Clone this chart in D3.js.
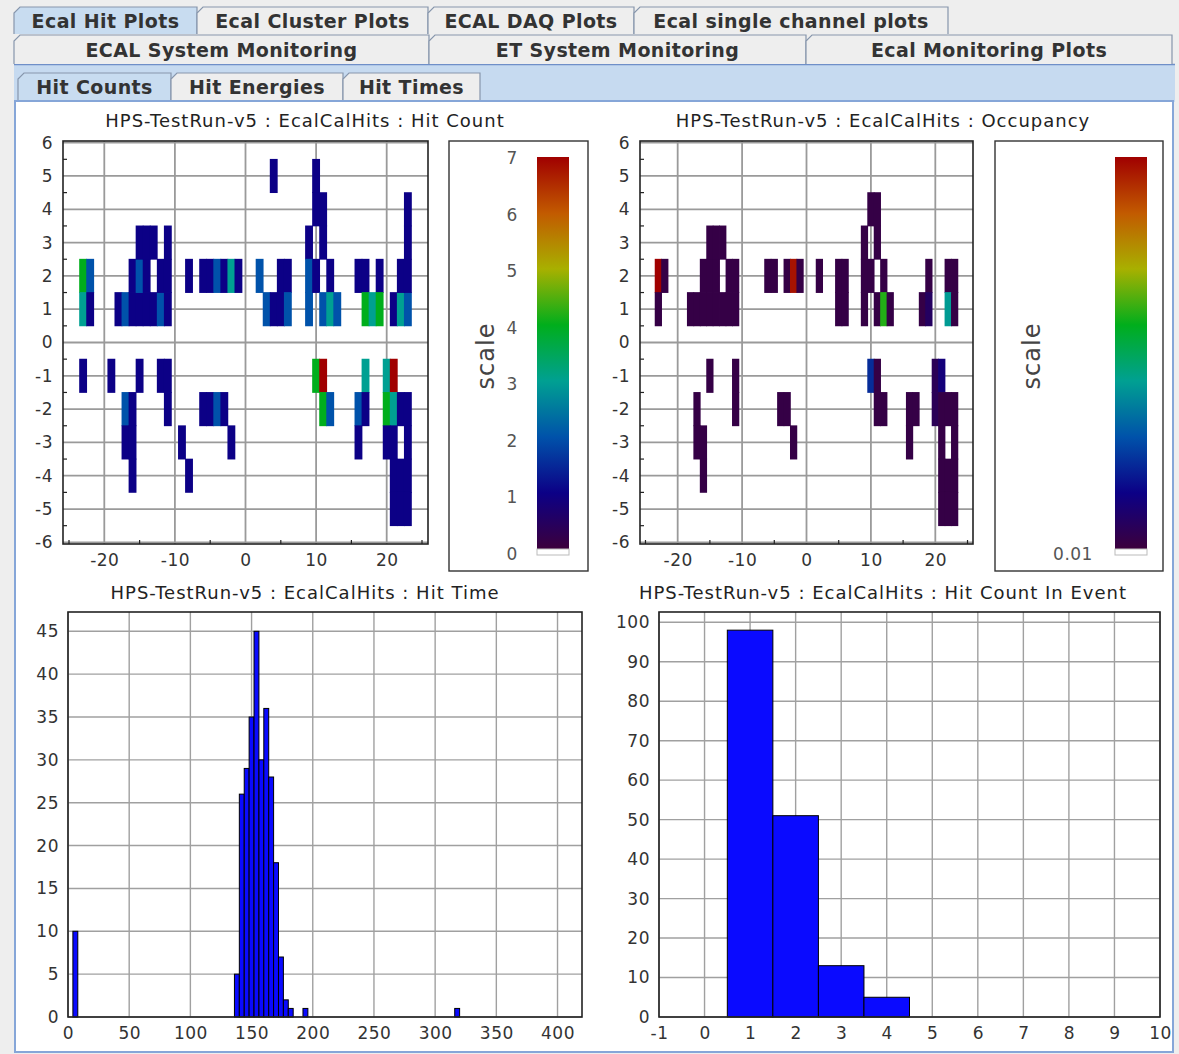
<!DOCTYPE html>
<html><head><meta charset="utf-8">
<script src="https://cdn.jsdelivr.net/npm/d3@7"></script>
<style>
body{margin:0;background:#eeeeee;}
svg{display:block;}
text{font-family:'DejaVu Sans',sans-serif;}
</style>
</head><body><svg id="chart"></svg><script>
// hit count map: [column, row, hits]
const hitCells = [
  [-23,2,4],[-22,2,2],[-23,1,3],[-22,1,1],
  [-18,1,1],[-17,1,2],[-16,1,1],[-15,1,1],[-14,1,1],[-13,1,1],[-12,1,2],[-11,1,1],
  [-16,2,1],[-15,2,2],[-14,2,1],[-12,2,1],[-11,2,1],
  [-15,3,1],[-14,3,1],[-13,3,1],[-11,3,1],
  [-8,2,1],[-6,2,1],[-5,2,1],[-4,2,2],[-3,2,1],[-2,2,3],[-1,2,1],
  [4,5,1],[2,2,2],[5,2,1],[6,2,1],[3,1,2],[4,1,1],[5,1,1],[6,1,2],
  [9,3,1],[9,2,2],[9,1,2],[10,5,1],[10,4,1],[10,2,1],[11,4,1],[11,3,1],[12,2,1],
  [11,1,2],[12,1,3],[13,1,2],
  [16,2,1],[17,2,1],[19,2,1],[17,1,4],[18,1,3],[19,1,4],
  [21,1,1],[22,1,3],[23,1,2],[22,2,1],[23,2,1],[23,3,1],[23,4,1],
  [-23,-1,1],[-19,-1,1],[-17,-2,2],[-17,-3,1],[-16,-2,1],[-16,-3,1],[-16,-4,1],
  [-15,-1,1],[-12,-1,1],[-11,-1,1],[-11,-2,1],[-9,-3,1],[-8,-4,1],
  [-6,-2,1],[-5,-2,1],[-4,-2,2],[-3,-2,1],[-2,-3,1],
  [10,-1,4],[11,-1,7],[11,-2,4],[12,-2,2],
  [17,-1,3],[16,-2,2],[17,-2,1],[16,-3,1],
  [20,-1,3],[21,-1,7],[20,-2,4],[21,-2,3],[22,-2,1],[23,-2,1],
  [20,-3,1],[21,-3,1],[23,-3,1],[21,-4,1],[22,-4,1],[23,-4,1],[21,-5,1],[22,-5,1],[23,-5,1]
];

// occupancy map: [column, row, fraction of colour scale]
const occCells = [
  [-23,2,1.0],[-22,2,0.02],[-23,1,0.02],
  [-18,1,0.02],[-17,1,0.02],[-16,1,0.02],[-15,1,0.02],[-14,1,0.02],[-13,1,0.02],[-12,1,0.02],[-11,1,0.02],
  [-16,2,0.02],[-15,2,0.02],[-14,2,0.02],[-12,2,0.02],[-11,2,0.02],
  [-15,3,0.02],[-14,3,0.02],[-13,3,0.02],
  [-6,2,0.02],[-5,2,0.02],[-3,2,0.02],[-2,2,0.97],[-1,2,0.02],
  [2,2,0.02],[5,2,0.02],[6,2,0.02],[5,1,0.02],[6,1,0.02],
  [9,3,0.02],[9,2,0.02],[9,1,0.02],[10,4,0.02],[11,4,0.02],[11,3,0.02],[10,2,0.02],[12,2,0.02],
  [11,1,0.02],[12,1,0.6],[13,1,0.02],
  [19,2,0.02],[18,1,0.02],[19,1,0.07],[22,2,0.02],[23,2,0.02],[22,1,0.42],[23,1,0.02],
  [-17,-2,0.02],[-17,-3,0.02],[-16,-3,0.02],[-16,-4,0.02],[-15,-1,0.02],[-11,-1,0.02],[-11,-2,0.02],
  [-4,-2,0.02],[-3,-2,0.02],[-2,-3,0.02],
  [10,-1,0.22],[11,-1,0.02],[11,-2,0.02],[12,-2,0.02],
  [16,-2,0.02],[17,-2,0.02],[16,-3,0.02],
  [20,-1,0.05],[20,-2,0.05],[21,-1,0.12],[21,-2,0.02],[22,-2,0.02],[23,-2,0.02],
  [21,-3,0.02],[23,-3,0.02],[21,-4,0.02],[22,-4,0.02],[23,-4,0.02],[21,-5,0.02],[22,-5,0.02],[23,-5,0.02]
];

const timeBinStart = [4, 136, 140, 144, 148, 152, 156, 160, 164, 168, 172, 176, 180, 192, 316];
const timeCounts   = [10, 5, 26, 29, 35, 45, 30, 36, 28, 18, 7, 2, 1, 1, 1];
const timeTicks = [0, 50, 100, 150, 200, 250, 300, 350, 400];
const timeYTicks = [0, 5, 10, 15, 20, 25, 30, 35, 40, 45];

const countBins = [1, 2, 3, 4];
const countValues = [98, 51, 13, 5];
const countTicks = [-1, 0, 1, 2, 3, 4, 5, 6, 7, 8, 9, 10];
const countYTicks = [0, 10, 20, 30, 40, 50, 60, 70, 80, 90, 100];

const mapXTicks = [-20, -10, 0, 10, 20];
const mapYTicks = [-6, -5, -4, -3, -2, -1, 0, 1, 2, 3, 4, 5, 6];
const scaleLabels = [0, 1, 2, 3, 4, 5, 6, 7];

const topTabs = ['Ecal Hit Plots', 'Ecal Cluster Plots', 'ECAL DAQ Plots', 'Ecal single channel plots'];
const midTabs = ['ECAL System Monitoring', 'ET System Monitoring', 'Ecal Monitoring Plots'];
const subTabs = ['Hit Counts', 'Hit Energies', 'Hit Times'];

const palette = ['#3c003c', '#0c0086', '#0052aa', '#00a092', '#00ae1c', '#a8b000', '#c25a00', '#a00000'];
const colorOf = d3.scaleLinear().domain(d3.range(8).map(i => i / 7)).range(palette).clamp(true);

const width = 1179, height = 1054;
const svg = d3.select('#chart').attr('width', width).attr('height', height);

svg.append('rect').attr('width', width).attr('height', height).attr('fill', '#eeeeee');

// plain hyphen for negative numbers, like the original
const fmt = d => (d < 0 ? '-' + Math.abs(d) : String(d));

function tab(x0, x1, y0, y1, label, selected) {
  svg.append('path')
  .attr('d', `M${x0},${y1} L${x0},${y0 + 6} L${x0 + 6},${y0} L${x1},${y0} L${x1},${y1}`)
  .attr('fill', selected ? '#c8dcf0' : '#eeeeee')
  .attr('stroke', '#8796ac').attr('stroke-width', 1.2);
  svg.append('text')
  .attr('x', (x0 + x1) / 2).attr('y', y0 + (y1 - y0) / 2 + 7)
  .attr('text-anchor', 'middle')
  .style('font-size', '19px').style('font-weight', 'bold').style('letter-spacing', '0.4px')
  .style('fill', '#333')
  .text(label);
}

// blue band behind the sub tabs
svg.append('rect').attr('x', 14).attr('y', 64).attr('width', 1161).attr('height', 38)
.attr('fill', '#c6daf0');
svg.append('line').attr('x1', 14).attr('x2', 1175).attr('y1', 64.5).attr('y2', 64.5)
.attr('stroke', '#6f8fc8').attr('stroke-width', 1.5);

const topEdges = [14, 197, 428, 634, 948];
topTabs.forEach((t, i) => tab(topEdges[i], topEdges[i + 1], 7, 34, t, i === 0));
const midEdges = [14, 429, 806, 1172];
midTabs.forEach((t, i) => tab(midEdges[i], midEdges[i + 1], 35, 64, t, false));
const subEdges = [18, 171, 343, 480];
subTabs.forEach((t, i) => tab(subEdges[i], subEdges[i + 1], 73, 101, t, i === 0));

// content panel
svg.append('rect').attr('x', 15).attr('y', 101).attr('width', 1158).attr('height', 951)
.attr('fill', 'white').attr('stroke', '#86a6d8').attr('stroke-width', 2);

function frame(g, x, y, w, h) {
  g.append('rect').attr('x', x).attr('y', y).attr('width', w).attr('height', h)
  .attr('fill', 'none').attr('stroke', '#222').attr('stroke-width', 1.6);
}

function styleAxis(sel) {
  sel.select('.domain').remove();
  sel.selectAll('.tick line').remove();
  sel.selectAll('text').style('font-size', '17px').style('fill', '#333')
  .style('letter-spacing', '0.5px')
  .style('font-family', "'DejaVu Sans', sans-serif");
}

function title(cx, y, txt) {
  svg.append('text').attr('x', cx).attr('y', y).attr('text-anchor', 'middle')
  .style('font-size', '18px').style('letter-spacing', '1px').style('fill', '#222').text(txt);
}

function heatmap(cells, colour, left, top, right, bottom, name, titleX) {
  const g = svg.append('g');
  const x = d3.scaleLinear().domain([-25.85, 25.85]).range([left, right]);
  const y = d3.scaleLinear().domain([-6.05, 6.05]).range([bottom, top]);

  g.append('g').selectAll('line').data(mapXTicks).join('line')
  .attr('x1', d => x(d)).attr('x2', d => x(d)).attr('y1', top).attr('y2', bottom)
  .attr('stroke', '#9a9a9a').attr('stroke-width', 1.8);
  g.append('g').selectAll('line').data(mapYTicks).join('line')
  .attr('x1', left).attr('x2', right).attr('y1', d => y(d)).attr('y2', d => y(d))
  .attr('stroke', '#9a9a9a').attr('stroke-width', 1.8);

  g.append('g').selectAll('rect').data(cells).join('rect')
  .attr('x', d => x(d[0] - 0.5) - 0.4)
  .attr('y', d => y(d[1] + 0.5) - 0.4)
  .attr('width', x(1) - x(0) + 0.8)
  .attr('height', y(0) - y(1) + 0.8)
  .attr('fill', d => colour(d[2]));

  // minor ticks
  g.append('g').selectAll('line').data(d3.range(-5.5, 6, 1)).join('line')
  .attr('x1', left).attr('x2', left + 4).attr('y1', d => y(d)).attr('y2', d => y(d))
  .attr('stroke', '#222').attr('stroke-width', 1.2);
  g.append('g').selectAll('line').data([-25, -15, -5, 5, 15, 25]).join('line')
  .attr('x1', d => x(d)).attr('x2', d => x(d)).attr('y1', bottom).attr('y2', bottom - 4)
  .attr('stroke', '#222').attr('stroke-width', 1.2);

  frame(g, left, top, right - left, bottom - top);

  g.append('g').attr('transform', `translate(0,${bottom})`)
  .call(d3.axisBottom(x).tickValues(mapXTicks).tickFormat(fmt).tickSize(0).tickPadding(10))
  .call(styleAxis);
  g.append('g').attr('transform', `translate(${left},0)`)
  .call(d3.axisLeft(y).tickValues(mapYTicks).tickFormat(fmt).tickSize(0).tickPadding(10))
  .call(styleAxis);

  title(titleX, 127, name);
}

heatmap(hitCells, v => colorOf(v / 7), 63, 141, 428, 544, 'HPS-TestRun-v5 : EcalCalHits : Hit Count', 305);
heatmap(occCells, v => colorOf(v), 640, 141, 973, 544, 'HPS-TestRun-v5 : EcalCalHits : Occupancy', 883);

// colour bars
const defs = svg.append('defs');
const grad = defs.append('linearGradient').attr('id', 'rainbow')
.attr('x1', 0).attr('y1', 1).attr('x2', 0).attr('y2', 0);
grad.selectAll('stop').data(palette).join('stop')
.attr('offset', (d, i) => i / 7).attr('stop-color', d => d);

function colorBar(bx, bw, gx, gTop, gBottom, labels) {
  svg.append('rect').attr('x', bx).attr('y', 141).attr('width', bw).attr('height', 430)
  .attr('fill', 'white').attr('stroke', '#333').attr('stroke-width', 1.4);
  svg.append('rect').attr('x', gx).attr('y', gTop).attr('width', 32).attr('height', gBottom - gTop)
  .attr('fill', 'url(#rainbow)');
  svg.append('rect').attr('x', gx).attr('y', gBottom).attr('width', 32).attr('height', 6)
  .attr('fill', 'white').attr('stroke', '#bbb').attr('stroke-width', 1);
  svg.append('text')
  .attr('transform', `translate(${bx + 45},356) rotate(-90)`)
  .attr('text-anchor', 'middle')
  .style('font-size', '24px').style('letter-spacing', '1px').style('fill', '#444').text('scale');
  labels();
}

const sy = d3.scaleLinear().domain([0, 7]).range([554, 158]);
colorBar(449, 139, 537, 157, 549, () => {
  svg.append('g').selectAll('text').data(scaleLabels).join('text')
  .attr('x', 512).attr('y', d => sy(d) + 6).attr('text-anchor', 'middle')
  .style('font-size', '17px').style('fill', '#555').text(d => d);
});
colorBar(995, 168, 1115, 157, 549, () => {
  svg.append('text').attr('x', 1073).attr('y', 560).attr('text-anchor', 'middle')
  .style('font-size', '17px').style('letter-spacing', '0.5px').style('fill', '#555').text('0.01');
});

function histogram(left, top, right, bottom, xDomain, yDomain, xTicks, yTicks, bins, widthOf, name, gridX, titleX) {
  const g = svg.append('g');
  const x = d3.scaleLinear().domain(xDomain).range([left, right]);
  const y = d3.scaleLinear().domain(yDomain).range([bottom, top]);

  g.append('g').selectAll('line').data(gridX).join('line')
  .attr('x1', d => x(d)).attr('x2', d => x(d)).attr('y1', top).attr('y2', bottom)
  .attr('stroke', '#a0a0a0').attr('stroke-width', 1.4);
  g.append('g').selectAll('line').data(yTicks).join('line')
  .attr('x1', left).attr('x2', right).attr('y1', d => y(d)).attr('y2', d => y(d))
  .attr('stroke', '#a0a0a0').attr('stroke-width', 1.4);

  g.append('g').selectAll('rect').data(bins).join('rect')
  .attr('x', d => x(d.x0)).attr('y', d => y(d.n))
  .attr('width', d => x(d.x0 + widthOf) - x(d.x0))
  .attr('height', d => y(0) - y(d.n))
  .attr('fill', '#0a0aff').attr('stroke', '#000').attr('stroke-width', 1);

  frame(g, left, top, right - left, bottom - top);

  g.append('g').attr('transform', `translate(0,${bottom})`)
  .call(d3.axisBottom(x).tickValues(xTicks).tickFormat(fmt).tickSize(0).tickPadding(10))
  .call(styleAxis);
  g.append('g').attr('transform', `translate(${left},0)`)
  .call(d3.axisLeft(y).tickValues(yTicks).tickFormat(fmt).tickSize(0).tickPadding(9))
  .call(styleAxis);

  title(titleX, 599, name);
}

histogram(68, 612, 582, 1017, [0, 420], [0, 47.25], timeTicks, timeYTicks,
  timeBinStart.map((s, i) => ({x0: s, n: timeCounts[i]})), 4,
  'HPS-TestRun-v5 : EcalCalHits : Hit Time', timeTicks, 305);

histogram(659, 612, 1160, 1017, [-1, 10], [0, 102.6], countTicks, countYTicks,
  countBins.map((b, i) => ({x0: b - 0.5, n: countValues[i]})), 1,
  'HPS-TestRun-v5 : EcalCalHits : Hit Count In Event', countTicks, 883);
</script></body></html>
